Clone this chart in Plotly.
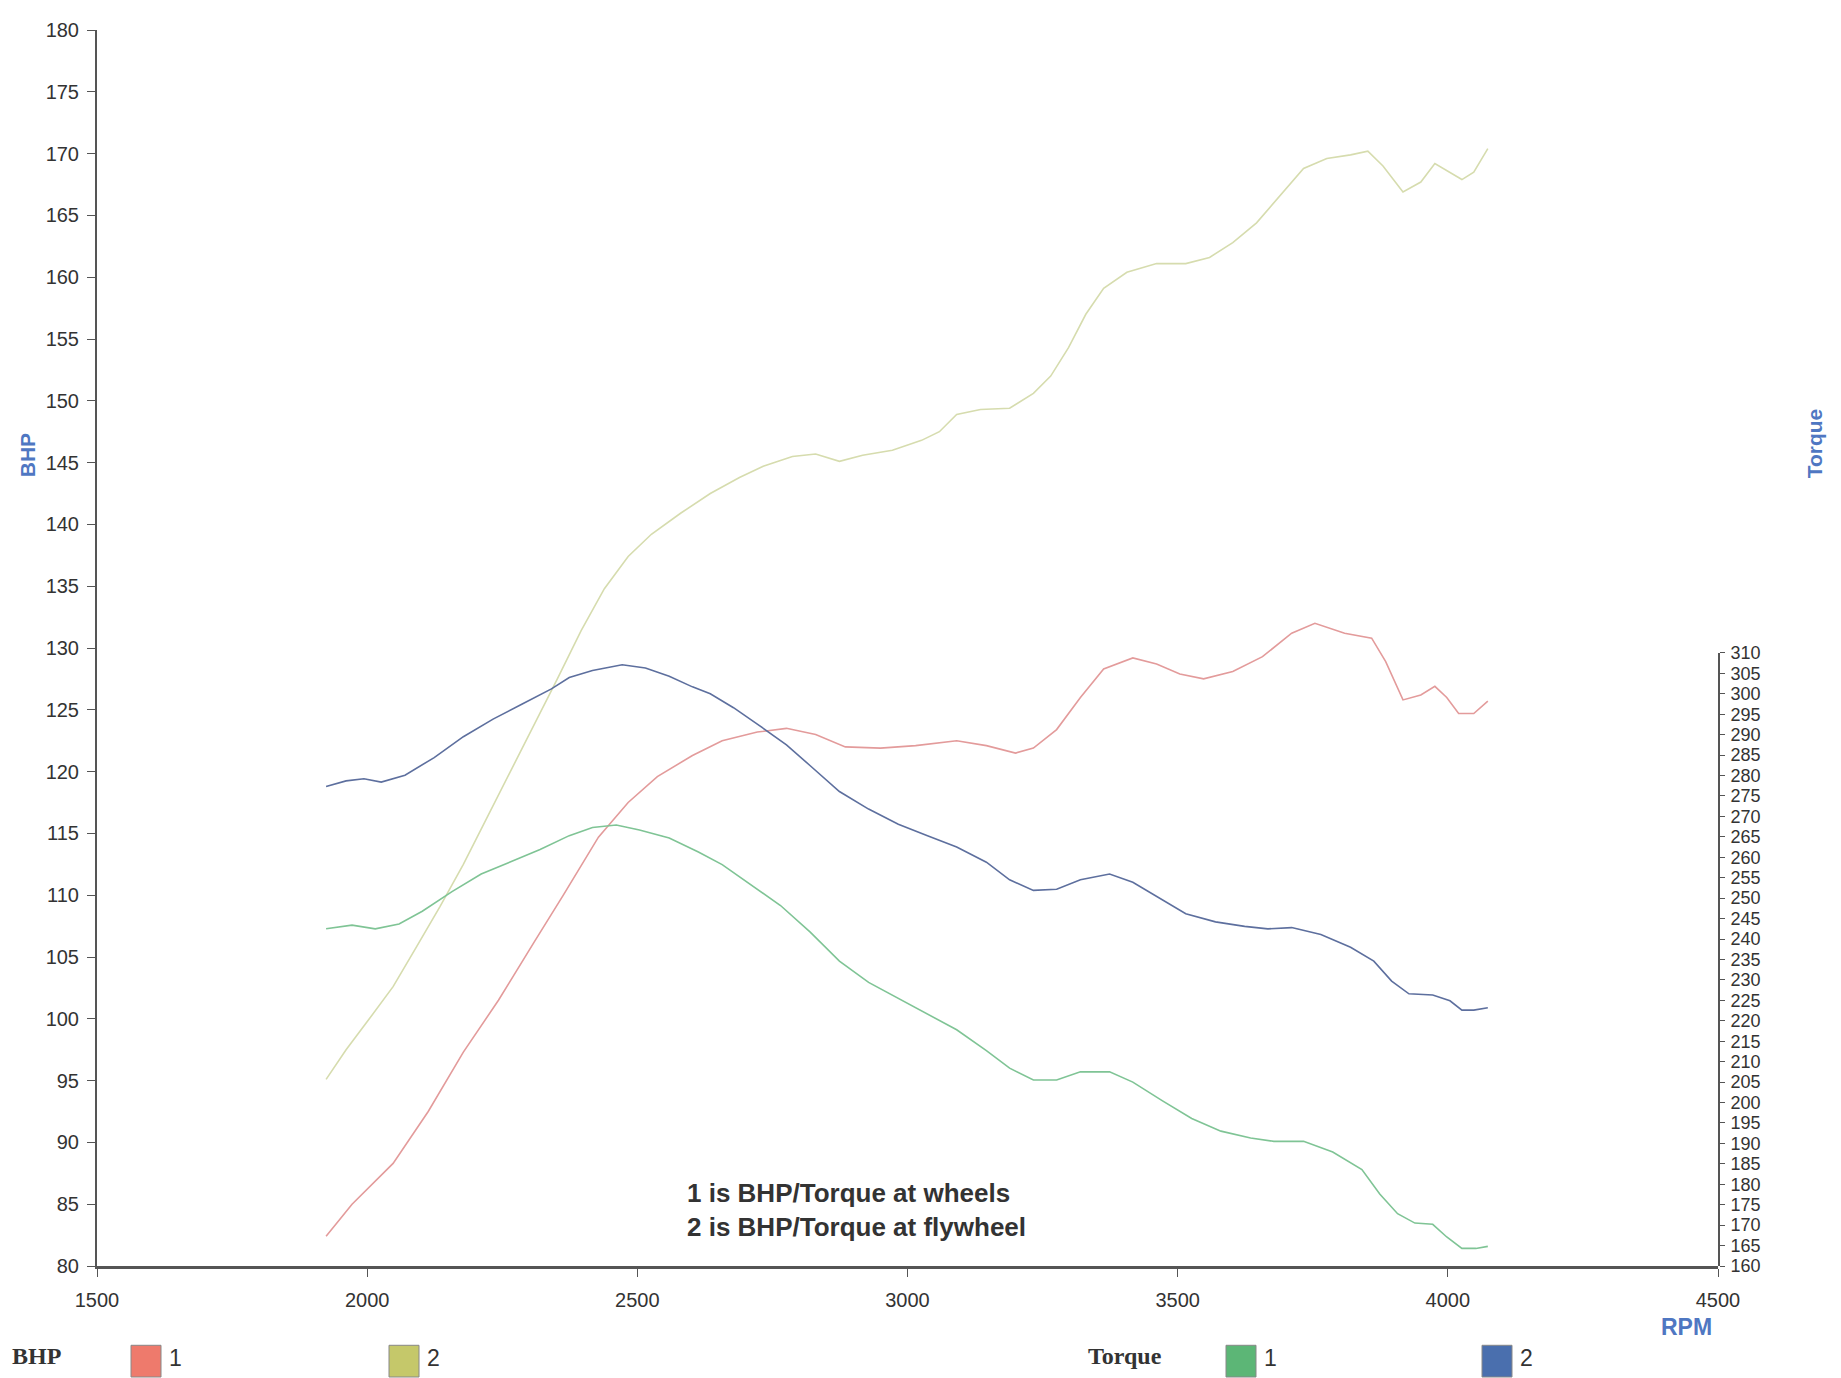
import plotly.graph_objects as go

# ---------------- data ----------------
bhp1_rpm = [1924, 1972, 2048, 2113, 2178, 2243, 2309, 2363, 2428, 2483, 2537, 2602, 2657, 2722,
            2776, 2830, 2885, 2950, 3015, 3091, 3146, 3200, 3233, 3276, 3320, 3363, 3417, 3461,
            3504, 3548, 3602, 3657, 3711, 3754, 3809, 3859, 3885, 3917, 3950, 3976, 3998, 4020,
            4048, 4074]
bhp1 = [82.4, 85.0, 88.3, 92.5, 97.3, 101.5, 106.2, 110.0, 114.7, 117.5, 119.6, 121.3, 122.5, 123.2,
        123.5, 123.0, 122.0, 121.9, 122.1, 122.5, 122.1, 121.5, 121.9, 123.4, 126.0, 128.3, 129.2, 128.7,
        127.9, 127.5, 128.1, 129.3, 131.2, 132.0, 131.2, 130.8, 128.9, 125.8, 126.2, 126.9, 126.0, 124.7,
        124.7, 125.7]

bhp2_rpm = [1924, 1961, 2004, 2048, 2091, 2135, 2178, 2222, 2265, 2309, 2352, 2396, 2439, 2483,
            2526, 2580, 2635, 2689, 2733, 2787, 2830, 2874, 2917, 2972, 3026, 3059, 3091, 3135,
            3189, 3233, 3265, 3298, 3330, 3363, 3406, 3461, 3515, 3559, 3602, 3646, 3689, 3733,
            3776, 3820, 3852, 3880, 3917, 3950, 3976, 4004, 4026, 4048, 4074]
bhp2 = [95.1, 97.5, 100.0, 102.6, 105.8, 109.1, 112.5, 116.3, 119.9, 123.7, 127.5, 131.4, 134.8, 137.4,
        139.2, 140.9, 142.5, 143.8, 144.7, 145.5, 145.7, 145.1, 145.6, 146.0, 146.8, 147.5, 148.9, 149.3,
        149.4, 150.6, 152.0, 154.3, 157.0, 159.1, 160.4, 161.1, 161.1, 161.6, 162.8, 164.4, 166.6, 168.8,
        169.6, 169.9, 170.2, 169.0, 166.9, 167.7, 169.2, 168.5, 167.9, 168.5, 170.4]

tq1_rpm = [1924, 1972, 2015, 2059, 2102, 2157, 2211, 2265, 2320, 2374, 2417, 2461, 2504, 2559,
           2613, 2657, 2711, 2765, 2820, 2874, 2928, 2983, 3037, 3091, 3146, 3189, 3233, 3276,
           3320, 3374, 3417, 3472, 3526, 3580, 3635, 3678, 3733, 3787, 3841, 3874, 3907, 3939,
           3972, 3998, 4026, 4052, 4074]
tq1 = [242.5, 243.4, 242.5, 243.7, 246.8, 251.6, 255.9, 258.8, 261.9, 265.3, 267.3, 267.9, 266.7, 264.7,
       261.3, 258.2, 253.3, 248.2, 241.7, 234.6, 229.4, 225.5, 221.5, 217.8, 212.7, 208.4, 205.5, 205.5,
       207.5, 207.5, 205.0, 200.4, 196.1, 193.0, 191.3, 190.5, 190.5, 187.9, 183.6, 177.6, 172.8, 170.5,
       170.2, 167.1, 164.3, 164.3, 164.8]

tq2_rpm = [1924, 1961, 1994, 2026, 2070, 2124, 2178, 2233, 2287, 2341, 2374, 2417, 2472, 2515,
           2559, 2602, 2635, 2678, 2722, 2776, 2820, 2874, 2928, 2983, 3037, 3091, 3146, 3189,
           3233, 3276, 3320, 3374, 3417, 3461, 3515, 3570, 3624, 3667, 3711, 3765, 3820, 3863,
           3896, 3928, 3972, 4004, 4026, 4048, 4074]
tq2 = [277.3, 278.7, 279.2, 278.4, 280.1, 284.4, 289.5, 293.8, 297.5, 301.2, 304.0, 305.7, 307.1, 306.3,
       304.3, 301.7, 300.0, 296.6, 292.6, 287.5, 282.4, 276.1, 271.8, 268.1, 265.3, 262.5, 258.8, 254.5,
       251.9, 252.2, 254.5, 255.9, 253.9, 250.5, 246.2, 244.2, 243.1, 242.5, 242.8, 241.1, 238.0, 234.6,
       229.7, 226.6, 226.3, 224.9, 222.6, 222.6, 223.2]

x_ticks = [1500, 2000, 2500, 3000, 3500, 4000, 4500]
note_lines = ["1 is BHP/Torque at wheels", "2 is BHP/Torque at flywheel"]

# ---------------- geometry ----------------
# The page body has an 8px margin, so the figure is made 8px smaller and all
# reference positions (page pixels) are shifted by that offset.
OFF = 8
W, H = 1841 - OFF, 1378 - OFF
PLOT_L, PLOT_R, PLOT_T, PLOT_B = 97, 1718, 19, 1266   # reference page pixels
L = PLOT_L - OFF
T = PLOT_T - OFF
R = W - (PLOT_R - OFF)
B = H - (PLOT_B - OFF)
PW, PH = W - L - R, H - T - B


def px(X):
    return (X - OFF - L) / PW


def py(Y):
    return (H - B - (Y - OFF)) / PH


SANS = "Arial, Liberation Sans, sans-serif"
SERIF = "Times New Roman, Liberation Serif, serif"
AXIS_BLUE = "#4f77c2"
TXT = "#333333"

fig = go.Figure()
fig.add_trace(go.Scatter(x=bhp1_rpm, y=bhp1, mode="lines", name="BHP 1",
                         line=dict(color="#e39b9b", width=1.6)))
fig.add_trace(go.Scatter(x=bhp2_rpm, y=bhp2, mode="lines", name="BHP 2",
                         line=dict(color="#d6dcae", width=1.6)))
fig.add_trace(go.Scatter(x=tq1_rpm, y=tq1, mode="lines", name="Torque 1", yaxis="y2",
                         line=dict(color="#7fc495", width=1.6)))
fig.add_trace(go.Scatter(x=tq2_rpm, y=tq2, mode="lines", name="Torque 2", yaxis="y2",
                         line=dict(color="#5d6f9e", width=1.6)))

fig.update_layout(
    width=W, height=H, autosize=False,
    margin=dict(l=L, r=R, t=T, b=B, pad=0),
    paper_bgcolor="white", plot_bgcolor="rgba(0,0,0,0)",
    showlegend=False,
    font=dict(family=SANS, color=TXT),
    xaxis=dict(range=[1500, 4500], tickvals=x_ticks, ticks="outside", ticklen=8,
               tickcolor="#555", showline=True, linewidth=3, linecolor="#555",
               showgrid=False, zeroline=False, tickfont=dict(size=20, color=TXT),
               ticklabelstandoff=6),
    yaxis=dict(range=[80, 180], dtick=5, ticks="outside", ticklen=8, tickcolor="#555",
               showline=True, linewidth=2, linecolor="#555", showgrid=False, zeroline=False,
               tickfont=dict(size=20, color=TXT), ticklabelstandoff=4),
    yaxis2=dict(range=[160, 310], dtick=5, domain=[0, 0.496], anchor="x", side="right",
                ticks="outside", ticklen=5, tickcolor="#555", showline=True, linewidth=2,
                linecolor="#555", showgrid=False, zeroline=False,
                tickfont=dict(size=18, color=TXT), ticklabelstandoff=2),
)

ann = []
ann.append(dict(text="<b>BHP</b>", xref="paper", yref="paper", x=px(27), y=py(448),
                xanchor="center", yanchor="middle",
                textangle=-90, showarrow=False, font=dict(size=21, color=AXIS_BLUE, family=SANS)))
ann.append(dict(text="<b>Torque</b>", xref="paper", yref="paper", x=px(1814), y=py(436),
                xanchor="center", yanchor="middle",
                textangle=-90, showarrow=False, font=dict(size=21, color=AXIS_BLUE, family=SANS)))
ann.append(dict(text="<b>RPM</b>", xref="paper", yref="paper", x=px(1686), y=py(1328),
                xanchor="center", yanchor="middle",
                showarrow=False, font=dict(size=23, color=AXIS_BLUE, family=SANS)))
ann.append(dict(text="<b>" + "<br>".join(note_lines) + "</b>", xref="paper", yref="paper",
                x=px(685), y=py(1209), xanchor="left", yanchor="middle", align="left",
                showarrow=False, font=dict(size=26, color=TXT, family=SANS)))

# bottom legend
ann.append(dict(text="<b>BHP</b>", xref="paper", yref="paper", x=px(10), y=py(1357),
                xanchor="left", yanchor="middle", showarrow=False,
                font=dict(size=24, color=TXT, family=SERIF)))
ann.append(dict(text="<b>Torque</b>", xref="paper", yref="paper", x=px(1086), y=py(1357),
                xanchor="left", yanchor="middle", showarrow=False,
                font=dict(size=24, color=TXT, family=SERIF)))

legend_items = [(131, "#ee7a6c", "1"), (389, "#c5c86a", "2"), (1226, "#5cb676", "1"), (1482, "#4a6fae", "2")]
shapes = []
for x0, col, lab in legend_items:
    shapes.append(dict(type="rect", xref="paper", yref="paper",
                       x0=px(x0), x1=px(x0 + 30), y0=py(1378), y1=py(1346),
                       fillcolor=col, line=dict(color="#888", width=1)))
    ann.append(dict(text=lab, xref="paper", yref="paper", x=px(x0 + 36), y=py(1359),
                    xanchor="left", yanchor="middle", showarrow=False,
                    font=dict(size=23, color=TXT, family=SANS)))

fig.update_layout(annotations=ann, shapes=shapes)
fig.write_html("out.html")
